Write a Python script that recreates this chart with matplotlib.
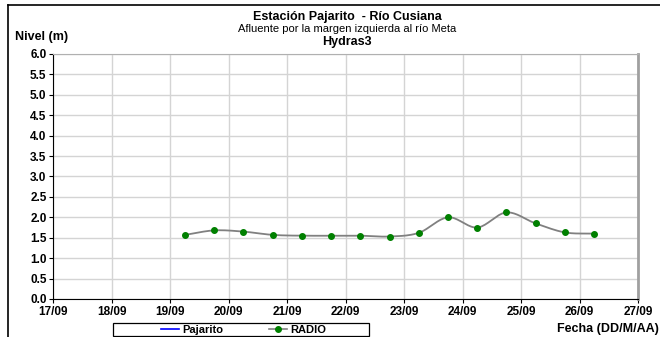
import numpy as np
import matplotlib
matplotlib.use("Agg")
from matplotlib import pyplot as plt
from matplotlib.lines import Line2D
from matplotlib.patches import Rectangle

plt.rcParams['font.family'] = ['Liberation Sans', 'DejaVu Sans']

# datos (dia del mes de septiembre, nivel en m)
dias = [19.25, 19.75, 20.25, 20.75, 21.25, 21.75, 22.25, 22.75,
        23.25, 23.75, 24.25, 24.75, 25.25, 25.75, 26.25]
nivel = [1.57, 1.68, 1.65, 1.57, 1.55, 1.55, 1.55, 1.53,
         1.62, 2.00, 1.75, 2.12, 1.85, 1.63, 1.60]
etiquetas_x = ['17/09', '18/09', '19/09', '20/09', '21/09',
               '22/09', '23/09', '24/09', '25/09', '26/09', '27/09']
ticks_y = [0.0, 0.5, 1.0, 1.5, 2.0, 2.5, 3.0, 3.5, 4.0, 4.5, 5.0, 5.5, 6.0]


def suavizar(x, y, n=20):
    # curva suavizada tipo Catmull-Rom (como la linea suavizada de Excel)
    x = np.asarray(x, float)
    y = np.asarray(y, float)
    px = np.concatenate([[2 * x[0] - x[1]], x, [2 * x[-1] - x[-2]]])
    py = np.concatenate([[2 * y[0] - y[1]], y, [2 * y[-1] - y[-2]]])
    xs, ys = [], []
    t = np.linspace(0, 1, n)
    for i in range(1, len(px) - 2):
        for p, out in ((px, xs), (py, ys)):
            p0, p1, p2, p3 = p[i - 1], p[i], p[i + 1], p[i + 2]
            out.extend(0.5 * (2 * p1 + (-p0 + p2) * t
                              + (2 * p0 - 5 * p1 + 4 * p2 - p3) * t ** 2
                              + (-p0 + 3 * p1 - 3 * p2 + p3) * t ** 3))
    return xs, ys


fig = plt.figure(figsize=(6.6, 3.37), dpi=100)
ax = fig.add_axes([0.081, 0.1128, 0.8857, 0.727])

sx, sy = suavizar(dias, nivel)
ax.plot(sx, sy, color='#808080', lw=1.3, zorder=3)
ax.plot(dias, nivel, 'o', color='#008000', ms=4, zorder=4)

ax.set_xlim(17, 27)
ax.set_ylim(0, 6)
ax.set_xticks(range(17, 28))
ax.set_xticklabels(etiquetas_x)
ax.set_yticks(ticks_y)
ax.set_yticklabels(['%.1f' % v for v in ticks_y])
ax.tick_params(direction='out', length=3, width=0.8, labelsize=8.5, pad=2)
for lab in ax.get_xticklabels() + ax.get_yticklabels():
    lab.set_fontweight('bold')
ax.grid(True, color='#d4d4d4', lw=1.0)
ax.set_axisbelow(True)
ax.spines['top'].set_color('#b0b0b0')
ax.spines['right'].set_color('#a0a0a0')
ax.spines['right'].set_linewidth(2)
ax.spines['left'].set_linewidth(0.8)
ax.spines['bottom'].set_linewidth(0.8)

# titulos
fig.text(0.526, 0.95, 'Estación Pajarito  - Río Cusiana', ha='center', va='center',
         fontsize=9, fontweight='bold')
fig.text(0.526, 0.913, 'Afluente por la margen izquierda al río Meta', ha='center',
         va='center', fontsize=8)
fig.text(0.526, 0.875, 'Hydras3', ha='center', va='center', fontsize=9, fontweight='bold')
fig.text(0.022, 0.89, 'Nivel (m)', ha='left', va='center', fontsize=9, fontweight='bold')
fig.text(0.998, 0.024, 'Fecha (DD/M/AA)', ha='right', va='center', fontsize=9,
         fontweight='bold')

# leyenda
h = [Line2D([], [], color='blue', lw=1.2),
     Line2D([], [], color='#808080', lw=1.2, marker='o', ms=4,
            markerfacecolor='#008000', markeredgecolor='#008000')]
leg = fig.legend(h, ['Pajarito', 'RADIO'], loc='center', bbox_to_anchor=(0.369, 0.022),
                 ncol=2, fontsize=8, frameon=False, borderpad=0.0,
                 handlelength=1.6, columnspacing=4.1, handletextpad=0.3)
for t in leg.get_texts():
    t.set_fontweight('bold')
fig.patches.append(Rectangle((0.171, 0.003), 0.388, 0.0386, transform=fig.transFigure,
                             fill=False, edgecolor='black', lw=0.9))

# marco de la figura (solo izquierda y arriba visibles)
fig.lines.append(Line2D([0.012, 0.012], [0.0, 0.985], transform=fig.transFigure,
                        color='black', lw=1.2))
fig.lines.append(Line2D([0.012, 1.0], [0.985, 0.985], transform=fig.transFigure,
                        color='black', lw=1.2))

fig.savefig('out.png', dpi=100)
